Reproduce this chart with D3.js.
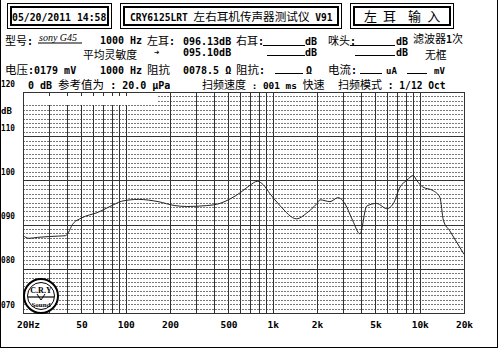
<!DOCTYPE html>
<html><head><meta charset="utf-8">
<script src="https://cdn.jsdelivr.net/npm/d3@7"></script>
<style>
html,body{margin:0;padding:0;background:#fff;}
svg{display:block;}
.m{font-family:"DejaVu Sans Mono",monospace;font-weight:bold;}
.c{font-family:"Noto Sans CJK SC",sans-serif;font-weight:normal;}
</style></head>
<body>
<script>
// ---- data ----
const freqs = [20, 22, 25, 30, 35, 39, 44, 50, 65, 85, 94, 122, 166, 216, 260, 355, 438, 512, 600, 700, 785, 863, 957, 1120, 1455, 1700, 1990, 2100, 2450, 2780, 3100, 3500, 3920, 4360, 5100, 5960, 6600, 7340, 8150, 9040, 9530, 10500, 12300, 13700, 14500, 16000, 20000];
const spl   = [87.5, 86.9, 87.1, 87.3, 87.4, 87.5, 90.3, 91.5, 92.8, 94.7, 95.3, 95.7, 95.2, 94.3, 94.1, 94.3, 94.8, 95.8, 97.2, 98.9, 99.8, 99.0, 97.0, 94.3, 91.3, 92.6, 94.7, 95.6, 95.2, 96.1, 94.7, 90.9, 87.9, 94.2, 94.8, 93.6, 94.7, 98.5, 100.0, 101.1, 100.0, 98.5, 97.7, 96.2, 90.9, 88.6, 83.3];
const xTickValues = [20, 50, 100, 200, 500, 1000, 2000, 5000, 10000, 20000];
const xTickLabels = ["20Hz", "50", "100", "200", "500", "1k", "2k", "5k", "10k", "20k"];
const yTickValues = [120, 110, 100, 90, 80, 70];
const yTickLabels = ["120", "110", "100", "090", "080", "070"];

const W = 500, H = 350;
const svg = d3.select("body").append("svg").attr("width", W).attr("height", H);

const x = d3.scaleLog().domain([20, 20000]).range([23, 464]);
const y = d3.scaleLinear().domain([70, 120]).range([313, 92]);

// mixed text helper: CJK runs in CJK font, others bold mono
function txt(px, py, s, opt = {}) {
  const t = svg.append("text").attr("x", px).attr("y", py).attr("fill", "#000");
  if (opt.anchor) t.attr("text-anchor", opt.anchor);
  const runs = s.match(/([\u3000-\u9fff\uff00-\uffef]+|[^\u3000-\u9fff\uff00-\uffef]+)/g) || [];
  runs.forEach(r => {
    const cjk = /[\u3000-\u9fff\uff00-\uffef]/.test(r);
    t.append("tspan").attr("class", cjk ? "c" : "m")
      .attr("font-size", cjk ? (opt.cs || 11.5) : (opt.ms || 10))
      .attr("xml:space", "preserve")
      .text(r);
  });
  return t;
}
function blank(x0, x1, yy) {
  svg.append("line").attr("x1", x0).attr("x2", x1).attr("y1", yy + 0.5).attr("y2", yy + 0.5)
    .attr("stroke", "#000").attr("stroke-width", 1);
}

// outer frame
svg.append("rect").attr("x", 0.5).attr("y", -1).attr("width", 497).attr("height", 348.5)
  .attr("fill", "none").attr("stroke", "#000").attr("stroke-width", 1);

// header boxes (double borders)
function box(x0, y0, x1, y1) {
  svg.append("rect").attr("x", x0 + 0.5).attr("y", y0 + 0.5).attr("width", x1 - x0).attr("height", y1 - y0)
    .attr("fill", "none").attr("stroke", "#000").attr("stroke-width", 1);
  svg.append("rect").attr("x", x0 + 4).attr("y", y0 + 4).attr("width", x1 - x0 - 7).attr("height", y1 - y0 - 7)
    .attr("fill", "none").attr("stroke", "#000").attr("stroke-width", 2);
}
box(7, 3, 111, 28);
box(120, 3, 341, 28);
box(350, 3, 453, 28);
txt(12, 21, "05/20/2011 14:58", {ms: 9.8});
txt(130, 21, "CRY6125LRT 左右耳机传声器测试仪 V91", {ms: 9.6, cs: 11.6});
txt(364, 21, "左 耳  输 入", {cs: 13});

// info rows
txt(5, 44.5, "型号:", {cs: 11});
svg.append("text").attr("x", 39).attr("y", 41).attr("font-family", "Liberation Serif").attr("font-size", 10)
  .attr("font-style", "italic").attr("fill", "#000").text("sony G45");
blank(38, 82, 42.5);
txt(100, 43.5, "1000 Hz");
txt(147, 44.5, "左耳:", {cs: 11});
txt(183, 44.5, "096.13dB");
txt(236, 44.5, "右耳:", {cs: 11});
blank(263, 305, 45);
txt(305, 44.5, "dB");
txt(328, 44.5, "咪头:", {cs: 11});
blank(350, 395, 45);
txt(396, 44.5, "dB");
txt(413, 42.5, "滤波器1次", {cs: 11});

txt(83, 58.5, "平均灵敏度", {cs: 10.8});
svg.append("text").attr("x", 154).attr("y", 55).attr("class", "m").attr("font-size", 9).text("➔");
txt(183, 56, "095.10dB");
blank(267, 305, 55);
txt(305, 56, "dB");
blank(355, 395, 55);
txt(396, 56, "dB");
txt(425, 58.5, "无框", {cs: 10.8});

txt(5, 74, "电压:0179 mV");
txt(100, 74, "1000 Hz");
txt(147, 74, "阻抗");
txt(183, 74, "0078.5 Ω");
txt(236, 74, "阻抗:");
blank(275, 303, 73);
txt(306, 74, "Ω");
txt(328, 74, "电流:");
blank(360, 382, 73);
txt(386, 74, "uA", {ms: 9});
blank(407, 427, 73);
txt(434, 74, "mV", {ms: 9});

// chart sub-header
txt(28, 89, "0 dB 参考值为 : 20.0 μPa", {ms: 10, cs: 11.5});
txt(202, 89, "扫频速度 : 001 ms 快速", {ms: 9.4, cs: 11});
txt(338, 89, "扫频模式 : 1/12 Oct", {ms: 9.6, cs: 11});

// grid: dotted every 1 dB
const g = svg.append("g");
d3.range(71, 120).filter(v => v % 10 !== 0).forEach(v => {
  g.append("line").attr("x1", 23).attr("x2", 464).attr("y1", Math.round(y(v)) + 0.5).attr("y2", Math.round(y(v)) + 0.5)
    .attr("stroke", "#777").attr("stroke-dasharray", "2,1");
});
// vertical log grid
x.ticks().filter(f => f > 20 && f < 20000).forEach(f => {
  g.append("line").attr("x1", Math.round(x(f)) + 0.5).attr("x2", Math.round(x(f)) + 0.5).attr("y1", 92).attr("y2", 313)
    .attr("stroke", "#333");
});
// blank area at top left
g.append("rect").attr("x", 24).attr("y", 96).attr("width", 134).attr("height", 9).attr("fill", "#fff");
// solid horizontal every 10 dB
[80, 90, 100, 110].forEach(v => {
  g.append("line").attr("x1", 23).attr("x2", 464).attr("y1", Math.round(y(v)) + 0.5).attr("y2", Math.round(y(v)) + 0.5)
    .attr("stroke", "#333").attr("stroke-width", 1.2);
});
// plot frame
svg.append("rect").attr("x", 23.5).attr("y", 92.5).attr("width", 441).attr("height", 221)
  .attr("fill", "none").attr("stroke", "#333");

// y labels
yTickValues.forEach((v, i) => {
  svg.append("text").attr("class", "m").attr("font-size", 9).attr("x", 1).attr("y", y(v) - 5.5)
    .attr("fill", "#000")
    .attr("textLength", 14).attr("lengthAdjust", "spacingAndGlyphs").text(yTickLabels[i]);
});
svg.append("text").attr("class", "m").attr("font-size", 9).attr("x", 1).attr("y", 114).text("dB");

// x axis labels via d3 axis
const ax = d3.axisBottom(x).tickValues(xTickValues).tickFormat((d, i) => xTickLabels[i]).tickSize(0).tickPadding(0);
const axg = svg.append("g").attr("transform", "translate(0,321)").call(ax);
axg.select(".domain").remove();
axg.selectAll("text").attr("class", "m").attr("font-size", 9.5).attr("fill", "#000")
  .attr("dx", (d, i) => i === 0 ? 5 : 0);

// curve
const line = d3.line().x((d, i) => x(freqs[i])).y(d => y(d)).curve(d3.curveMonotoneX);
svg.append("path").attr("d", line(spl)).attr("fill", "none").attr("stroke", "#222").attr("stroke-width", 1);

// logo
const lg = svg.append("g").attr("transform", "translate(41,296)");
lg.append("circle").attr("r", 17).attr("fill", "#fff").attr("stroke", "#000").attr("stroke-width", 2);
lg.append("circle").attr("r", 13.5).attr("fill", "none").attr("stroke", "#000").attr("stroke-width", 1);
lg.append("text").attr("y", -3).attr("text-anchor", "middle").attr("font-family", "Liberation Serif")
  .attr("font-size", 8).attr("font-weight", "bold").text("C.R.Y");
lg.append("line").attr("x1", -13).attr("x2", 13).attr("y1", 1).attr("y2", 1).attr("stroke", "#000").attr("stroke-width", 1.2);
lg.append("path").attr("d", "M-4,-2 L0,4 L4,-2").attr("fill", "none").attr("stroke", "#000");
lg.append("text").attr("y", 11).attr("text-anchor", "middle").attr("font-family", "Liberation Serif")
  .attr("font-size", 7).attr("font-weight", "bold").text("Sound");
</script>
</body></html>
